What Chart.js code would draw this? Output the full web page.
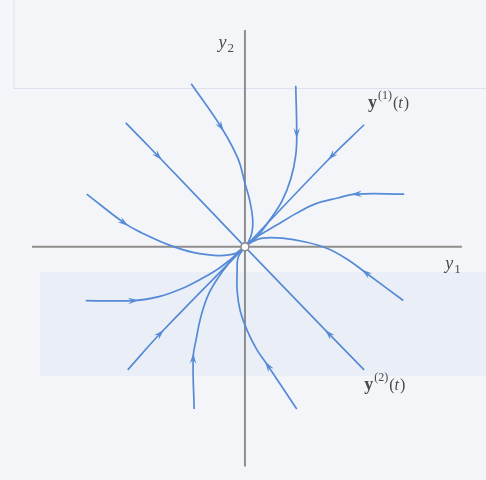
<!DOCTYPE html>
<html>
<head>
<meta charset="utf-8">
<script src="https://cdn.jsdelivr.net/npm/chart.js@4.4.1/dist/chart.umd.min.js"></script>
<style>
  html, body { margin: 0; padding: 0; background: #f4f5f9; }
  #wrap { width: 486px; height: 480px; position: relative; }
</style>
</head>
<body>
<div id="wrap"><canvas id="c"></canvas></div>
<script>
// Trajectories of y' = Ay near the origin (improper node).
// Each list is one trajectory, ordered from its far end towards the origin.
const rayY1Upper = [{x: 1.22, y: 1.25}, {x: 0.88, y: 0.92}, {x: 0, y: 0}];
const rayY1Lower = [{x: -1.20, y: -1.26}, {x: -0.86, y: -0.88}, {x: 0, y: 0}];
const rayY2Upper = [{x: -1.22, y: 1.27}, {x: -0.88, y: 0.92}, {x: 0, y: 0}];
const rayY2Lower = [{x: 1.22, y: -1.26}, {x: 0.85, y: -0.88}, {x: 0, y: 0}];

const curveTopLeft = [{x: -0.55, y: 1.67}, {x: -0.24, y: 1.22}, {x: -0.07, y: 0.90}, {x: 0.00, y: 0.65},
  {x: 0.05, y: 0.47}, {x: 0.08, y: 0.27}, {x: 0.07, y: 0.14}, {x: 0.03, y: 0.04}, {x: 0, y: 0}];
const curveTop = [{x: 0.52, y: 1.65}, {x: 0.53, y: 1.15}, {x: 0.52, y: 0.94}, {x: 0.47, y: 0.70},
  {x: 0.38, y: 0.47}, {x: 0.25, y: 0.27}, {x: 0.12, y: 0.10}, {x: 0, y: 0}];
const curveUpperRight = [{x: 1.63, y: 0.54}, {x: 1.13, y: 0.54}, {x: 0.95, y: 0.50}, {x: 0.72, y: 0.44},
  {x: 0.52, y: 0.34}, {x: 0.32, y: 0.22}, {x: 0.15, y: 0.12}, {x: 0.05, y: 0.05}, {x: 0, y: 0}];
const curveLowerRight = [{x: 1.62, y: -0.55}, {x: 1.23, y: -0.26}, {x: 1.05, y: -0.13}, {x: 0.85, y: -0.02},
  {x: 0.62, y: 0.05}, {x: 0.38, y: 0.09}, {x: 0.18, y: 0.09}, {x: 0.07, y: 0.05}, {x: 0, y: 0}];
const curveUpperLeft = [{x: -1.62, y: 0.54}, {x: -1.23, y: 0.24}, {x: -1.05, y: 0.14}, {x: -0.78, y: 0.02},
  {x: -0.52, y: -0.06}, {x: -0.28, y: -0.09}, {x: -0.15, y: -0.08}, {x: -0.05, y: -0.05}, {x: 0, y: 0}];
const curveLowerLeft = [{x: -1.63, y: -0.55}, {x: -1.13, y: -0.55}, {x: -0.88, y: -0.51}, {x: -0.65, y: -0.43},
  {x: -0.45, y: -0.33}, {x: -0.28, y: -0.23}, {x: -0.15, y: -0.13}, {x: 0, y: 0}];
const curveBottomLeft = [{x: -0.52, y: -1.66}, {x: -0.53, y: -1.13}, {x: -0.50, y: -0.95}, {x: -0.45, y: -0.71},
  {x: -0.37, y: -0.48}, {x: -0.25, y: -0.28}, {x: -0.15, y: -0.15}, {x: -0.07, y: -0.05}, {x: 0, y: 0}];
const curveBottom = [{x: 0.53, y: -1.66}, {x: 0.23, y: -1.21}, {x: 0.12, y: -1.05}, {x: 0.02, y: -0.85},
  {x: -0.05, y: -0.65}, {x: -0.08, y: -0.45}, {x: -0.08, y: -0.25}, {x: -0.07, y: -0.11}, {x: 0, y: 0}];

// Coordinate axes and the critical point
const axisY1 = [{x: -2.18, y: 0}, {x: 2.22, y: 0}];
const axisY2 = [{x: 0, y: -2.25}, {x: 0, y: 2.22}];
const criticalPoint = [{x: 0, y: 0}];

// Axis and solution labels, anchored in data coordinates
const axisLabels = [
  {name: 'y', sub: '2', x: -0.27, y: 2.04},
  {name: 'y', sub: '1', x: 2.05, y: -0.23}
];
const solutionLabels = [
  {sup: '(1)', x: 1.26, y: 1.42},
  {sup: '(2)', x: 1.22, y: -1.47}
];

const trajectories = [rayY1Upper, rayY1Lower, rayY2Upper, rayY2Lower,
  curveTopLeft, curveTop, curveUpperRight, curveLowerRight,
  curveUpperLeft, curveLowerLeft, curveBottomLeft, curveBottom];

const BLUE = '#558ad6';
const GREY = '#8f8e8c';
const INK = '#4a4a4a';

const datasets = [
  {data: axisY1, borderColor: GREY, borderWidth: 2, order: 3, tension: 0},
  {data: axisY2, borderColor: GREY, borderWidth: 2, order: 3, tension: 0}
];
trajectories.forEach(t => datasets.push({
  data: t, borderColor: BLUE, borderWidth: 1.7, order: 2, tension: 0.4, arrowAt: 1
}));
datasets.push({
  data: criticalPoint, showLine: false, pointRadius: 4, pointBorderWidth: 1.6,
  pointBackgroundColor: '#ffffff', pointBorderColor: GREY, order: 1
});

// Page tone behind the figure
const pagePlugin = {
  id: 'page',
  beforeDraw(chart) {
    const ctx = chart.ctx;
    ctx.save();
    ctx.fillStyle = '#f4f5f9';
    ctx.fillRect(0, 0, chart.width, chart.height);
    ctx.fillStyle = 'rgba(226,233,246,0.55)';
    ctx.fillRect(40, 272, 446, 104);
    ctx.strokeStyle = 'rgba(205,212,228,0.6)';
    ctx.lineWidth = 1;
    ctx.beginPath();
    ctx.moveTo(14, 0); ctx.lineTo(14, 88.5); ctx.lineTo(486, 88.5);
    ctx.stroke();
    ctx.restore();
  }
};

// Direction arrows along each trajectory
const arrowPlugin = {
  id: 'arrows',
  afterDatasetsDraw(chart) {
    const ctx = chart.ctx;
    chart.data.datasets.forEach((ds, i) => {
      if (ds.arrowAt === undefined) return;
      const pts = chart.getDatasetMeta(i).data;
      const k = ds.arrowAt;
      const a = pts[k - 1], b = pts[k + 1], p = pts[k];
      const ang = Math.atan2(b.y - a.y, b.x - a.x);
      const len = 11, spread = 0.3;
      const tx = p.x + Math.cos(ang) * 4, ty = p.y + Math.sin(ang) * 4;
      ctx.save();
      ctx.fillStyle = BLUE;
      ctx.beginPath();
      ctx.moveTo(tx, ty);
      ctx.lineTo(tx - len * Math.cos(ang - spread), ty - len * Math.sin(ang - spread));
      ctx.lineTo(tx - len * 0.6 * Math.cos(ang), ty - len * 0.6 * Math.sin(ang));
      ctx.lineTo(tx - len * Math.cos(ang + spread), ty - len * Math.sin(ang + spread));
      ctx.closePath();
      ctx.fill();
      ctx.restore();
    });
  }
};

// Axis names and solution labels
const labelPlugin = {
  id: 'labels',
  afterDraw(chart) {
    const ctx = chart.ctx;
    const xs = chart.scales.x, ys = chart.scales.y;
    ctx.save();
    ctx.fillStyle = INK;
    ctx.textBaseline = 'alphabetic';
    axisLabels.forEach(l => {
      const px = xs.getPixelForValue(l.x), py = ys.getPixelForValue(l.y);
      ctx.font = 'italic 18px "Liberation Serif"';
      ctx.fillText(l.name, px, py);
      const w = ctx.measureText(l.name).width;
      ctx.font = '13px "Liberation Serif"';
      ctx.fillText(l.sub, px + w + 1, py + 4);
    });
    solutionLabels.forEach(l => {
      let px = xs.getPixelForValue(l.x), py = ys.getPixelForValue(l.y);
      ctx.font = 'bold 18px "Liberation Serif"';
      ctx.fillText('y', px, py);
      px += ctx.measureText('y').width + 1;
      ctx.font = '12px "Liberation Serif"';
      ctx.fillText(l.sup, px, py - 9);
      px += ctx.measureText(l.sup).width + 1;
      ctx.font = '16px "Liberation Serif"';
      ctx.fillText('(', px, py);
      px += ctx.measureText('(').width;
      ctx.font = 'italic 16px "Liberation Serif"';
      ctx.fillText('t', px, py);
      px += ctx.measureText('t').width + 1;
      ctx.font = '16px "Liberation Serif"';
      ctx.fillText(')', px, py);
    });
    ctx.restore();
  }
};

new Chart(document.getElementById('c'), {
  type: 'scatter',
  data: {datasets},
  options: {
    responsive: true,
    maintainAspectRatio: false,
    animation: false,
    layout: {padding: 0},
    showLine: true,
    elements: {point: {radius: 0, hoverRadius: 0}, line: {fill: false}},
    plugins: {legend: {display: false}, tooltip: {enabled: false}},
    scales: {
      x: {type: 'linear', display: false, min: -2.45, max: 2.41},
      y: {type: 'linear', display: false, min: -2.33, max: 2.47}
    }
  },
  plugins: [pagePlugin, arrowPlugin, labelPlugin]
});
</script>
</body>
</html>
